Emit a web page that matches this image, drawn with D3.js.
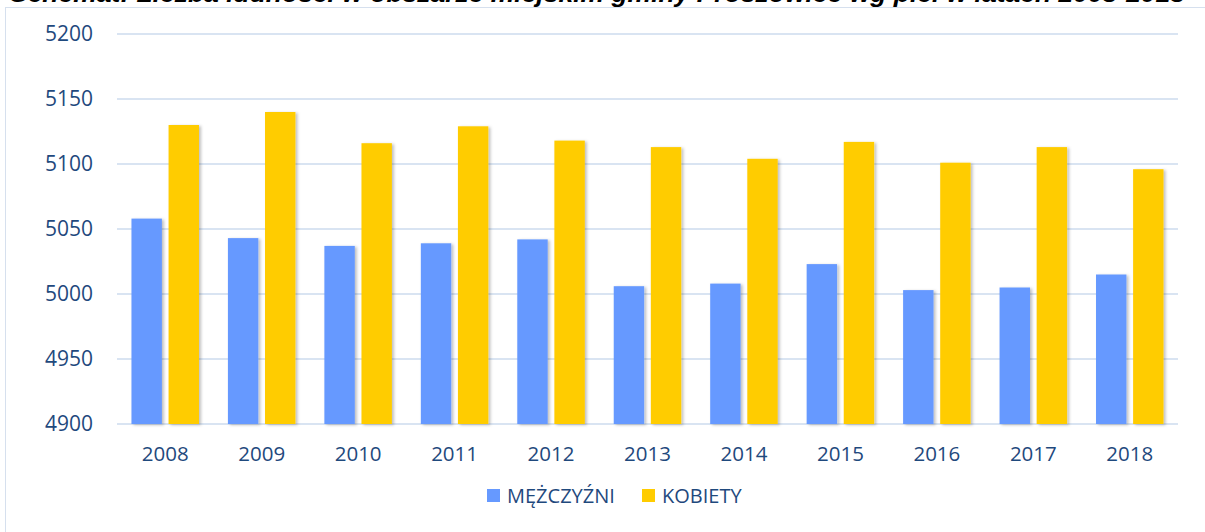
<!DOCTYPE html>
<html>
<head>
<meta charset="utf-8">
<script src="https://cdn.jsdelivr.net/npm/d3@7"></script>
<style>
  body { margin: 0; background: #fff; }
  #chart { width: 1205px; height: 532px; overflow: hidden; }
</style>
</head>
<body>
<div id="chart"></div>
<script>
// dane wykresu
const years = ['2008', '2009', '2010', '2011', '2012', '2013', '2014', '2015', '2016', '2017', '2018'];
const men = [5058, 5043, 5037, 5039, 5042, 5006, 5008, 5023, 5003, 5005, 5015];
const women = [5130, 5140, 5116, 5129, 5118, 5113, 5104, 5117, 5101, 5113, 5096];
const seriesNames = ['MĘŻCZYŹNI', 'KOBIETY'];
const yTicks = [4900, 4950, 5000, 5050, 5100, 5150, 5200];
const title = 'Schemat: Liczba ludności w obszarze miejskim gminy Proszowice wg płci w latach 2008-2018';

const colors = ['#6699ff', '#ffcc00'];
const textColor = '#1f497d';
const gridColor = '#d9e4f2';
const font = '"Open Sans", "Noto Sans", sans-serif';

const W = 1205, H = 532;
const plot = { left: 117, right: 1178, top: 34, bottom: 424 };

const svg = d3.select('#chart').append('svg')
  .attr('width', W).attr('height', H);

// cien slupkow
const defs = svg.append('defs');
const f = defs.append('filter').attr('id', 'shadow')
  .attr('x', '-20%').attr('y', '-5%').attr('width', '150%').attr('height', '115%');
f.append('feDropShadow').attr('dx', 2).attr('dy', 1).attr('stdDeviation', 1.5)
  .attr('flood-color', '#000').attr('flood-opacity', 0.25);

// ramka
svg.append('rect')
  .attr('x', 5.5).attr('y', 7.5).attr('width', W + 10).attr('height', H + 10)
  .attr('fill', 'none').attr('stroke', '#d6e0ee').attr('stroke-width', 1);

// tytul (obciety u gory, jak w oryginale)
svg.append('text')
  .attr('x', 10).attr('y', 2)
  .attr('font-family', 'Arial, "Liberation Sans", sans-serif')
  .attr('font-weight', 'bold').attr('font-style', 'italic')
  .attr('font-size', 26).attr('fill', '#000')
  .attr('textLength', 1175).attr('lengthAdjust', 'spacingAndGlyphs')
  .text(title);

const y = d3.scaleLinear().domain([4900, 5200]).range([plot.bottom, plot.top]);
const x0 = d3.scaleBand().domain(years).range([plot.left, plot.right]).paddingInner(0.3).paddingOuter(0.15);
const x1 = d3.scaleBand().domain([0, 1]).range([0, x0.bandwidth()]).paddingInner(0.18);

// siatka
svg.append('g').selectAll('line').data(yTicks).enter().append('line')
  .attr('x1', plot.left).attr('x2', plot.right)
  .attr('y1', d => y(d)).attr('y2', d => y(d))
  .attr('stroke', gridColor).attr('stroke-width', 2);

// os Y
const yAxis = svg.append('g')
  .attr('transform', `translate(${plot.left - 24},0)`)
  .call(d3.axisLeft(y).tickValues(yTicks).tickFormat(d3.format('d')).tickSize(0).tickPadding(0));
yAxis.select('.domain').remove();
yAxis.selectAll('text')
  .attr('font-family', font).attr('font-size', 21).attr('fill', textColor);

// os X
const xAxis = svg.append('g')
  .attr('transform', `translate(0,${plot.bottom})`)
  .call(d3.axisBottom(x0).tickSize(0).tickPadding(22));
xAxis.select('.domain').remove();
xAxis.selectAll('text')
  .attr('font-family', font).attr('font-size', 20.5).attr('fill', textColor);

// slupki
const rows = years.map((yr, i) => ({ year: yr, vals: [men[i], women[i]] }));
const groups = svg.append('g').selectAll('g').data(rows).enter().append('g')
  .attr('transform', d => `translate(${x0(d.year)},0)`);
groups.selectAll('rect').data(d => d.vals.map((v, k) => ({ v, k }))).enter().append('rect')
  .attr('x', d => x1(d.k))
  .attr('y', d => y(d.v))
  .attr('width', x1.bandwidth())
  .attr('height', d => y(4900) - y(d.v))
  .attr('fill', d => colors[d.k])
  .attr('filter', 'url(#shadow)');

// legenda
const legend = svg.append('g').attr('transform', 'translate(487,489)');
const legendX = [0, 155];
seriesNames.forEach((name, k) => {
  const g = legend.append('g').attr('transform', `translate(${legendX[k]},0)`);
  g.append('rect').attr('width', 13).attr('height', 13).attr('fill', colors[k]);
  g.append('text').attr('x', 20).attr('y', 14)
    .attr('font-family', font).attr('font-size', 20).attr('fill', textColor)
    .text(name);
});
</script>
</body>
</html>
